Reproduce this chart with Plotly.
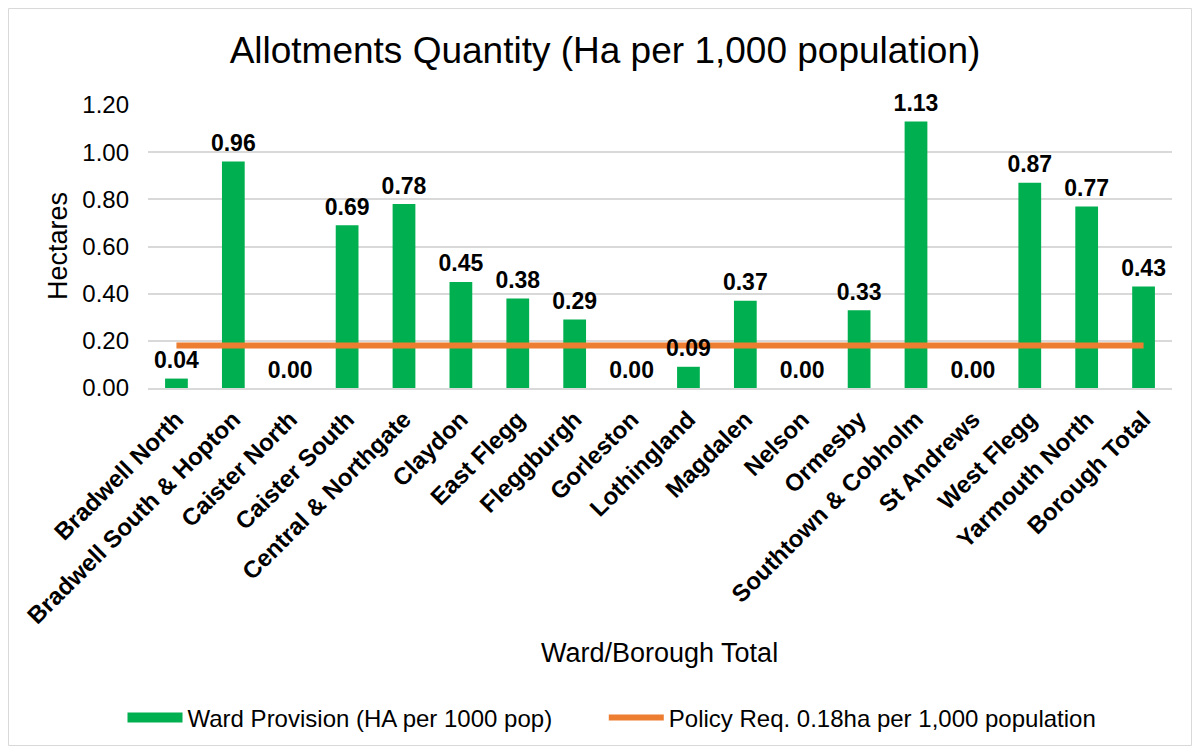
import plotly.graph_objects as go

wards = [
    "Bradwell North", "Bradwell South & Hopton", "Caister North", "Caister South",
    "Central & Northgate", "Claydon", "East Flegg", "Fleggburgh", "Gorleston",
    "Lothingland", "Magdalen", "Nelson", "Ormesby", "Southtown & Cobholm",
    "St Andrews", "West Flegg", "Yarmouth North", "Borough Total",
]
provision = [0.04, 0.96, 0.00, 0.69, 0.78, 0.45, 0.38, 0.29, 0.00,
             0.09, 0.37, 0.00, 0.33, 1.13, 0.00, 0.87, 0.77, 0.43]
policy = [0.18] * len(wards)

FONT = "Liberation Sans, Arial, sans-serif"
GREEN = "#00B050"
ORANGE = "#ED7D31"
GRID = "#D9D9D9"

# the page body adds an 8px margin, so the figure is 16px smaller than the window
OFF = 8
W, H = 1200 - 2 * OFF, 754 - 2 * OFF
# plot area in page pixels: x 148..1172, y 105..388
L, T = 148 - OFF, 105 - OFF
R = W - (1172 - OFF)
B = H - (388 - OFF)
pw, ph = W - L - R, H - T - B


def px(x):
    # page x -> paper x
    return (x - OFF - L) / pw


def py(y):
    # page y -> paper y
    return (H - B - (y - OFF)) / ph


fig = go.Figure()

fig.add_trace(go.Bar(
    x=wards, y=provision,
    name="Ward Provision (HA per 1000 pop)",
    marker=dict(color=GREEN, line=dict(width=0)),
    showlegend=False,
))

fig.add_trace(go.Scatter(
    x=wards, y=policy,
    name="Policy Req. 0.18ha per 1,000 population",
    mode="lines",
    line=dict(color=ORANGE, width=6),
    showlegend=False,
))

# data labels drawn above the policy line
fig.add_trace(go.Scatter(
    x=wards, y=provision,
    mode="markers+text",
    marker=dict(size=6, opacity=0),
    text=[f"{v:.2f}" for v in provision],
    textposition="top center",
    textfont=dict(family=FONT, size=23, color="#000000", weight="bold"),
    showlegend=False,
    cliponaxis=False,
    hoverinfo="skip",
))

# legend entries (wide green block like the Excel key)
# trailing non-breaking spaces widen the gap between the two keys
fig.add_trace(go.Scatter(
    x=[wards[0]], y=[None], mode="lines",
    name="Ward Provision (HA per 1000 pop)" + "&nbsp;" * 7,
    line=dict(color=GREEN, width=13),
))
fig.add_trace(go.Scatter(
    x=[wards[0]], y=[None], mode="lines",
    name="Policy Req. 0.18ha per 1,000 population",
    line=dict(color=ORANGE, width=6),
))

fig.update_layout(
    width=W, height=H,
    paper_bgcolor="white",
    plot_bgcolor="white",
    margin=dict(l=L, r=R, t=T, b=B, autoexpand=False),
    font=dict(family=FONT, color="#000000"),
    bargap=0.6,
    title=dict(
        text="Allotments Quantity (Ha per 1,000 population)",
        xref="container", x=(605 - OFF) / W, xanchor="center",
        yref="container", y=1 - (50 - OFF) / H, yanchor="middle",
        font=dict(family=FONT, size=37, color="#000000"),
    ),
    xaxis=dict(
        automargin=False,
        range=[-0.5, len(wards) - 0.5],
        tickangle=-45,
        tickfont=dict(family=FONT, size=24, color="#000000", weight="bold"),
        ticklabelstandoff=6,
        showline=True, linecolor=GRID, linewidth=1.5,
        ticks="",
    ),
    yaxis=dict(
        automargin=False,
        range=[0, 1.2],
        tickvals=[0, 0.2, 0.4, 0.6, 0.8, 1.0, 1.2],
        tickformat=".2f",
        tickfont=dict(family=FONT, size=24, color="#000000"),
        ticklabelstandoff=18,
        showgrid=True, gridcolor=GRID, gridwidth=1.5,
        zeroline=False,
        ticks="",
    ),
    legend=dict(
        orientation="h",
        x=px(612), xanchor="center",
        y=py(718), yanchor="middle",
        font=dict(family=FONT, size=24, color="#000000"),
        itemwidth=55,
    ),
    annotations=[
        dict(text="Ward/Borough Total", xref="paper", yref="paper",
             x=px(659), y=py(653), xanchor="center", yanchor="middle",
             showarrow=False,
             font=dict(family=FONT, size=27, color="#000000")),
        dict(text="Hectares", xref="paper", yref="paper",
             x=px(58), y=py(246), xanchor="center", yanchor="middle",
             showarrow=False, textangle=-90,
             font=dict(family=FONT, size=27, color="#000000")),
    ],
    shapes=[
        dict(type="rect", xref="paper", yref="paper",
             x0=px(8.5), x1=px(1191.5), y0=py(745.5), y1=py(8.5),
             line=dict(color=GRID, width=1), fillcolor="rgba(0,0,0,0)",
             layer="below"),
    ],
)

fig.write_html("out.html")
